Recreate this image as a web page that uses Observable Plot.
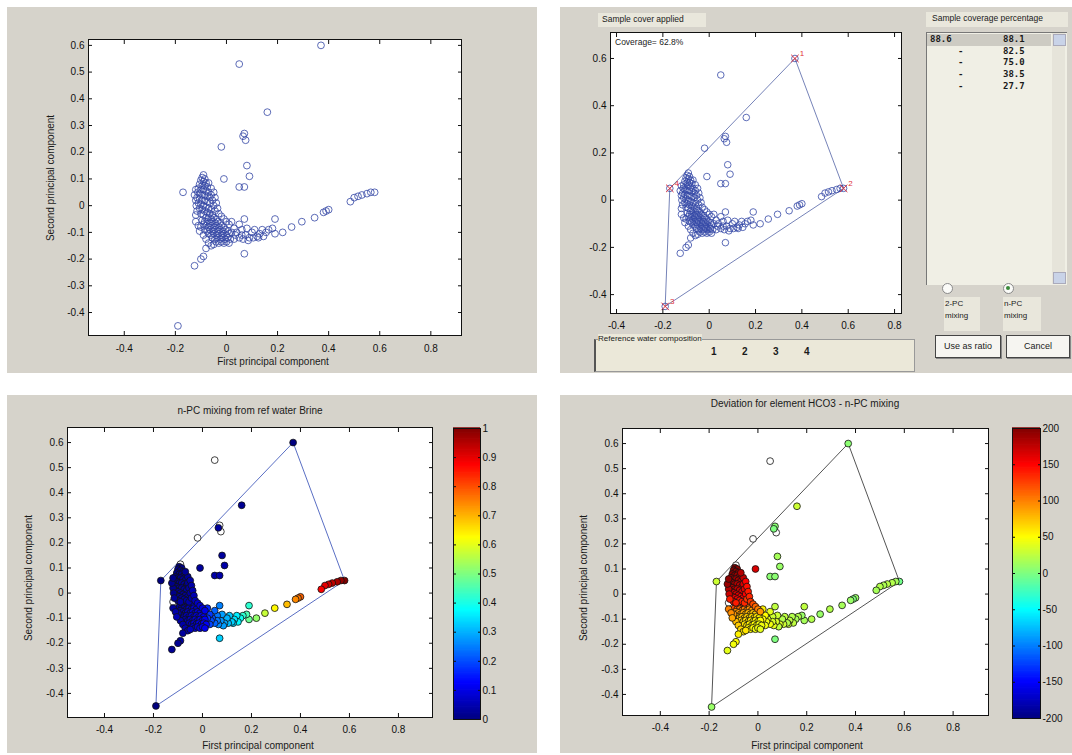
<!DOCTYPE html>
<html>
<head>
<meta charset="utf-8">
<script src="https://cdn.jsdelivr.net/npm/d3@7"></script>
<script src="https://cdn.jsdelivr.net/npm/@observablehq/plot@0.6"></script>
<style>
  body { margin: 0; width: 1072px; height: 755px; position: relative; overflow: hidden; background: #fff;
         font-family: "Liberation Sans", Arial, sans-serif; color: #1a1a1a; }
  .panel { position: absolute; background: #d6d3cb; }
  .abs { position: absolute; white-space: nowrap; }
  .chart { position: absolute; }
  .title { font-size: 10px; transform: translateX(-50%); }
  .ylab { font-size: 10px; transform: translate(-50%, -50%) rotate(-90deg); }
  .mono { font-family: "DejaVu Sans Mono", "Liberation Mono", monospace; font-size: 9px; font-weight: bold; }
  .btn { position: absolute; background: #f6f5f1; border: 1px solid #444; box-shadow: 1px 1px 0 #888;
         font-size: 9px; text-align: center; line-height: 20px; }
  .radio { position: absolute; width: 9px; height: 9px; border-radius: 50%; border: 1px solid #8a8a8a; background: #fbfbf8; }
</style>
</head>
<body>
<div class="panel" style="left:7px;top:7px;width:530px;height:366px"></div>
<div class="panel" style="left:560px;top:7px;width:512px;height:366px"></div>
<div class="panel" style="left:7px;top:395px;width:530px;height:358px"></div>
<div class="panel" style="left:560px;top:395px;width:512px;height:358px"></div>
<div id="root"></div>
<script>
// ---- Principal-component scores of the water samples ----
// order: end-members, upper scattered samples, brine mixing branch, main body,
// dense fresh-water group, left tail, flanks of the fresh-water group
const pc1 = [
  0.37, 0.58, -0.19, -0.17,
  0.05, 0.16, 0.07, 0.065, 0.075, -0.02, 0.08, 0.09, -0.01, 0.05, 0.07,
  0.565, 0.55, 0.53, 0.515, 0.50, 0.485, 0.40, 0.39, 0.38, 0.345,
  0.295, 0.255, 0.22, 0.19, 0.19, 0.18, 0.165, 0.155, 0.145, 0.14,
  0.13, 0.125, 0.12, 0.11, 0.105, 0.10, 0.09, 0.085, 0.08, 0.075,
  0.07, 0.065, 0.06, 0.06, 0.05, 0.05, 0.04, 0.035, 0.03, 0.03,
  0.02, 0.02, 0.07,
  -0.08, -0.07, -0.06, -0.05, -0.04, -0.095, -0.085, -0.075, -0.065, -0.055,
  -0.045, -0.035, -0.025, -0.09, -0.08, -0.07, -0.06, -0.05, -0.04, -0.03,
  -0.02, -0.01, -0.085, -0.075, -0.065, -0.055, -0.045, -0.035, -0.025, -0.015,
  -0.005, 0.005, -0.07, -0.06, -0.05, -0.04, -0.03, -0.02, -0.01, 0.0,
  0.01, -0.055, -0.045, -0.035, -0.025, -0.015, -0.005, 0.005, 0.015, -0.04,
  -0.03, -0.02, -0.01, 0.0, 0.01,
  -0.095, -0.085, -0.10, -0.09, -0.08, -0.105, -0.095, -0.085, -0.075, -0.11,
  -0.10, -0.09, -0.08, -0.07, -0.112, -0.105, -0.095, -0.085, -0.075, -0.065,
  -0.115, -0.105, -0.095, -0.085, -0.075, -0.065, -0.11, -0.10, -0.09, -0.08,
  -0.07, -0.06, -0.105, -0.095, -0.085, -0.075, -0.065, -0.055, -0.10, -0.09,
  -0.06, -0.055, -0.05, -0.06, -0.12, -0.118, -0.07, -0.045,
  -0.12, -0.115, -0.10, -0.09, -0.08, -0.07, -0.06, -0.05, -0.08, -0.09, -0.10, -0.125, -0.09,
  -0.05, -0.045, -0.04, -0.035, -0.03, -0.02, -0.01, 0.0, 0.01, -0.12, -0.11, -0.105, -0.125, -0.12
];
const pc2 = [
  0.60, 0.05, -0.45, 0.05,
  0.53, 0.35, 0.27, 0.26, 0.245, 0.22, 0.15, 0.11, 0.10, 0.07, 0.07,
  0.05, 0.045, 0.04, 0.035, 0.03, 0.015, -0.015, -0.02, -0.025, -0.045,
  -0.06, -0.08, -0.10, -0.105, -0.05, -0.085, -0.09, -0.10, -0.115, -0.09,
  -0.105, -0.12, -0.115, -0.09, -0.12, -0.10, -0.12, -0.13, -0.085, -0.11,
  -0.05, -0.125, -0.09, -0.11, -0.07, -0.12, -0.10, -0.11, -0.085, -0.125,
  -0.06, -0.10, -0.18,
  -0.045, -0.045, -0.05, -0.045, -0.05, -0.055, -0.06, -0.06, -0.065, -0.06,
  -0.065, -0.06, -0.065, -0.07, -0.075, -0.08, -0.075, -0.08, -0.075, -0.08,
  -0.075, -0.08, -0.09, -0.095, -0.09, -0.095, -0.09, -0.095, -0.09, -0.095,
  -0.09, -0.095, -0.105, -0.11, -0.105, -0.11, -0.105, -0.11, -0.105, -0.11,
  -0.105, -0.12, -0.125, -0.12, -0.125, -0.12, -0.125, -0.12, -0.125, -0.135,
  -0.14, -0.135, -0.14, -0.135, -0.14,
  0.105, 0.10, 0.095, 0.09, 0.085, 0.08, 0.075, 0.075, 0.07, 0.065,
  0.06, 0.06, 0.055, 0.05, 0.05, 0.045, 0.04, 0.04, 0.035, 0.03,
  0.03, 0.025, 0.02, 0.02, 0.015, 0.01, 0.01, 0.005, 0.0, -0.005,
  -0.01, -0.015, -0.01, -0.015, -0.02, -0.025, -0.03, -0.035, -0.03, -0.035,
  0.04, 0.02, 0.0, 0.065, 0.02, 0.0, 0.085, -0.02,
  -0.035, -0.02, -0.08, -0.11, -0.125, -0.14, -0.15, -0.145, -0.16, -0.19, -0.20, -0.225, 0.115,
  0.05, 0.03, 0.01, -0.01, -0.03, -0.04, -0.05, -0.06, -0.07, -0.06, -0.075, -0.095, 0.04, 0.06
];
// n-PC mixing fraction of the brine end-member (null: not computed)
const brine = [
  0, 1, 0, 0,
  null, 0.02, null, 0.03, null, null, 0.03, 0.04, 0.03, 0.04, 0.04,
  0.98, 0.96, 0.94, 0.92, 0.90, 0.88, 0.78, 0.76, 0.74, 0.69,
  0.63, 0.57, 0.52, 0.48, 0.42, 0.45, 0.42, 0.39, 0.37, 0.36,
  0.35, 0.33, 0.33, 0.32, 0.31, 0.30, 0.29, 0.28, 0.28, 0.27,
  0.25, 0.26, 0.24, 0.24, 0.22, 0.22, 0.20, 0.20, 0.18, 0.19,
  0.16, 0.17, 0.33,
  0.03, 0.03, 0.04, 0.05, 0.06, 0.02, 0.03, 0.03, 0.04, 0.05,
  0.06, 0.07, 0.07, 0.03, 0.03, 0.04, 0.05, 0.06, 0.07, 0.07,
  0.08, 0.09, 0.03, 0.04, 0.05, 0.06, 0.07, 0.07, 0.08, 0.09,
  0.10, 0.10, 0.04, 0.05, 0.06, 0.07, 0.08, 0.09, 0.09, 0.10,
  0.11, 0.05, 0.06, 0.07, 0.08, 0.09, 0.10, 0.11, 0.12, 0.06,
  0.07, 0.08, 0.09, 0.10, 0.11,
  0.01, 0.01, 0.01, 0.01, 0.01, 0.01, 0.01, 0.01, 0.02, 0.01,
  0.01, 0.01, 0.02, 0.02, 0.01, 0.01, 0.01, 0.02, 0.02, 0.02,
  0.01, 0.01, 0.02, 0.02, 0.02, 0.03, 0.01, 0.02, 0.02, 0.02,
  0.03, 0.03, 0.02, 0.02, 0.03, 0.03, 0.03, 0.04, 0.03, 0.03,
  0.02, 0.03, 0.03, 0.02, 0.01, 0.01, 0.02, 0.04,
  null, 0.02, 0.04, 0.04, 0.04, 0.05, 0.05, 0.06, 0.03, 0.03, 0.02, 0.02, null,
  0.04, 0.04, 0.05, 0.05, 0.06, 0.07, 0.08, 0.09, 0.10, 0.03, 0.04, 0.05, 0.01, 0.01
];
// deviation of HCO3 from the n-PC mixing estimate, % (null: not computed)
const hco3Dev = [
  5, -5, 10, 30,
  null, 30, 5, 0, null, null, 15, 10, 165, 5, 5,
  15, 20, 22, 18, 20, 15, 10, 0, 10, 15,
  20, 10, 20, 15, 25, 10, 20, 15, 25, 20,
  25, 30, 20, 25, 30, 20, 35, 25, 30, 35,
  25, 40, 30, 35, 40, 45, 40, 45, 50, 45,
  55, 50, 0,
  130, 125, 120, 115, 110, 120, 115, 110, 105, 100,
  100, 95, 90, 95, 90, 90, 85, 80, 80, 75,
  75, 70, 80, 75, 75, 70, 70, 65, 65, 60,
  60, 55, 70, 65, 65, 60, 60, 55, 55, 50,
  50, 60, 60, 55, 55, 50, 50, 45, 45, 55,
  50, 50, 45, 45, 40,
  200, 195, 200, 195, 190, 200, 195, 190, 185, 195,
  190, 190, 185, 180, 190, 190, 185, 180, 175, 170,
  185, 180, 180, 175, 170, 165, 175, 170, 165, 160,
  155, 150, 160, 155, 150, 145, 140, 135, 145, 140,
  165, 160, 150, 175, 180, 170, 180, 130,
  null, 140, 90, 75, 70, 65, 60, 60, 55, 50, 45, 40, null,
  150, 145, 140, 135, 130, 120, 110, 100, 90, 100, 95, 85, 190, 195
];

// end-member (reference water) compositions in PC space
const emPc1 = [0.37, 0.58, -0.19, -0.17];
const emPc2 = [0.60, 0.05, -0.45, 0.05];
const emLabel = ["1", "2", "3", "4"];

// tick values
const xTicks = [-0.4, -0.2, 0, 0.2, 0.4, 0.6, 0.8];
const yTicksFine = [-0.4, -0.3, -0.2, -0.1, 0, 0.1, 0.2, 0.3, 0.4, 0.5, 0.6];
const yTicksCoarse = [-0.4, -0.2, 0, 0.2, 0.4, 0.6];
const fracTicks = [0, 0.1, 0.2, 0.3, 0.4, 0.5, 0.6, 0.7, 0.8, 0.9, 1];
const devTicks = [-200, -150, -100, -50, 0, 50, 100, 150, 200];

// coverage list shown in the sample-coverage panel
const coverageFirst = "88.6";
const coverageValues = ["88.1", "82.5", "75.0", "38.5", "27.7"];
const coverageText = "Coverage= 62.8%";

// ---- helpers ----
const samples = pc1.map((x, i) => ({x, y: pc2[i], brine: brine[i], dev: hco3Dev[i]}));
const hull = [0, 1, 2, 3, 0].map(i => ({x: emPc1[i], y: emPc2[i]}));
const endMembers = emPc1.map((x, i) => ({x, y: emPc2[i], label: emLabel[i]}));

const jet = t => {
  const c = v => Math.round(255 * Math.max(0, Math.min(1, 1.5 - Math.abs(4 * t - v))));
  return `rgb(${c(3)},${c(2)},${c(1)})`;
};
const fmt = d => String(Math.round(d * 10) / 10);
const root = document.getElementById("root");

function place(node, left, top) {
  node.classList.add("chart");
  node.style.left = left + "px";
  node.style.top = top + "px";
  root.appendChild(node);
}
function text(str, left, top, cls = "", style = "") {
  const d = document.createElement("div");
  d.className = "abs " + cls;
  d.style.cssText = `left:${left}px;top:${top}px;${style}`;
  d.textContent = str;
  root.appendChild(d);
  return d;
}
function box(left, top, w, h, style) {
  const d = document.createElement("div");
  d.style.cssText = `position:absolute;left:${left}px;top:${top}px;width:${w}px;height:${h}px;${style}`;
  root.appendChild(d);
  return d;
}

// one MATLAB-style axes box: inward ticks on all four sides
function axesPanel({frame, xDomain, yDomain, yTicks, marks, fontSize = 10, color, xPad = 12}) {
  const [l, t, r, b] = frame;
  const mL = 40, mR = 10, mT = 10, mB = 24;
  const svg = Plot.plot({
    width: r - l + mL + mR, height: b - t + mT + mB,
    marginLeft: mL, marginRight: mR, marginTop: mT, marginBottom: mB,
    x: {domain: xDomain}, y: {domain: yDomain},
    color,
    style: {background: "transparent", fontFamily: "Liberation Sans, Arial, sans-serif", fontSize: fontSize + "px", color: "#111"},
    marks: [
      Plot.frame({fill: "white"}),
      ...marks,
      Plot.axisX(xTicks, {anchor: "bottom", tickSize: -4, tickPadding: xPad, tickFormat: fmt, label: null}),
      Plot.axisX(xTicks, {anchor: "top", tickSize: -4, tickFormat: () => "", label: null}),
      Plot.axisY(yTicks, {anchor: "left", tickSize: -4, tickPadding: 8, tickFormat: fmt, label: null}),
      Plot.axisY(yTicks, {anchor: "right", tickSize: -4, tickFormat: () => "", label: null}),
      Plot.frame({stroke: "#111", strokeWidth: 1})
    ]
  });
  place(svg, l - mL, t - mT);
}

function colorbar({frame, domain, ticks, fontSize = 10}) {
  const [l, t, r, b] = frame;
  const mL = 2, mR = 34, mT = 8, mB = 8;
  const n = 240, step = (domain[1] - domain[0]) / n;
  const bands = d3.range(n).map(i => domain[0] + i * step);
  const svg = Plot.plot({
    width: r - l + mL + mR, height: b - t + mT + mB,
    marginLeft: mL, marginRight: mR, marginTop: mT, marginBottom: mB,
    x: {domain: [0, 1], axis: null}, y: {domain},
    color: {type: "linear", domain, interpolate: jet},
    style: {background: "transparent", fontFamily: "Liberation Sans, Arial, sans-serif", fontSize: fontSize + "px", color: "#111"},
    marks: [
      Plot.rect(bands, {x1: 0, x2: 1, y1: d => d, y2: d => d + step * 1.6, fill: d => Math.min(d + step / 2, domain[1])}),
      Plot.axisY(ticks, {anchor: "right", tickSize: -3, tickPadding: 5, tickFormat: d => String(d), textAnchor: "start", label: null}),
      Plot.axisY(ticks, {anchor: "left", tickSize: -3, tickFormat: () => "", label: null}),
      Plot.frame({stroke: "#111"})
    ]
  });
  place(svg, l - mL, t - mT);
}

// ---- panel 1: raw PC scores ----
axesPanel({
  frame: [88, 39, 461, 335], xDomain: [-0.54, 0.92], yDomain: [-0.486, 0.622], yTicks: yTicksFine, xPad: 13,
  marks: [Plot.dot(samples, {x: "x", y: "y", r: 3.4, stroke: "#3346a4", strokeWidth: 0.8})]
});
text("First principal component", 273, 356, "title");
text("Second principal component", 50, 178, "ylab");

// ---- panel 2: sample coverage ----
axesPanel({
  frame: [610, 32, 901, 313], xDomain: [-0.426, 0.83], yDomain: [-0.48, 0.71], yTicks: yTicksCoarse,
  marks: [
    Plot.line(hull, {x: "x", y: "y", stroke: "#6675b0", strokeWidth: 0.9}),
    Plot.dot(samples, {x: "x", y: "y", r: 3.3, stroke: "#3448a6", strokeWidth: 0.8}),
    Plot.dot(endMembers, {x: "x", y: "y", symbol: "times", r: 3.5, stroke: "#e0303a", strokeWidth: 1}),
    Plot.text(endMembers, {x: "x", y: "y", text: "label", dx: 7, dy: -5, fill: "#e0303a", fontSize: 8})
  ]
});
text(coverageText, 615, 37, "", "font-size:8.5px");
box(598, 13, 108, 14, "background:#e9e7dc");
text("Sample cover applied", 602, 14, "", "font-size:8.5px");
box(926, 12, 142, 15, "background:#e9e7dc");
text("Sample coverage percentage", 932, 13, "", "font-size:8.5px");
box(926, 32, 140, 252, "background:#f0efe5;border-top:1px solid #777;border-left:1px solid #777");
box(927, 34, 124, 12, "background:#cdcbc3");
box(1052, 33, 13, 251, "background:#e6e4da");
box(1053, 34, 11, 10, "background:#c9d3e8;border:1px solid #aab");
box(1053, 272, 11, 10, "background:#c9d3e8;border:1px solid #aab");
text(coverageFirst, 930, 34, "mono");
coverageValues.forEach((v, i) => {
  if (i > 0) text("-", 958, 34 + i * 11.7, "mono");
  text(v, 1003, 34 + i * 11.7, "mono");
});
const r1 = box(942, 283, 9, 9, ""); r1.className = "radio";
const r2 = box(1003, 283, 9, 9, ""); r2.className = "radio";
box(1006, 286, 4, 4, "background:#3a8a3a;border-radius:50%");
box(944, 297, 36, 34, "background:#e9e7dc");
box(1003, 297, 38, 34, "background:#e9e7dc");
text("2-PC", 945, 299, "", "font-size:8px"); text("mixing", 945, 311, "", "font-size:8px");
text("n-PC", 1004, 299, "", "font-size:8px"); text("mixing", 1004, 311, "", "font-size:8px");
const b1 = box(935, 335, 64, 21, ""); b1.className = "btn"; b1.textContent = "Use as ratio";
const b2 = box(1006, 335, 62, 21, ""); b2.className = "btn"; b2.textContent = "Cancel";
box(594, 339, 318, 31, "background:#ebe8d9;border:1px solid #999;border-left:2px solid #555");
text("Reference water composition", 598, 334, "", "font-size:8px;background:#ebe8d9");
emLabel.forEach((lab, i) => text(lab, 711 + i * 31, 346, "", "font-size:10px;font-weight:bold"));

// ---- panel 3: n-PC mixing fraction of brine ----
axesPanel({
  frame: [67, 427, 432, 717], xDomain: [-0.551, 0.939], yDomain: [-0.496, 0.66], yTicks: yTicksFine,
  color: {type: "linear", domain: [0, 1], interpolate: jet},
  marks: [
    Plot.line(hull, {x: "x", y: "y", stroke: "#5a6fc4", strokeWidth: 1}),
    Plot.dot(samples, {filter: d => d.brine == null, x: "x", y: "y", r: 3.4, fill: "white", stroke: "#111", strokeWidth: 0.8}),
    Plot.dot(samples, {filter: d => d.brine != null, x: "x", y: "y", r: 3.4, fill: "brine", stroke: "#111", strokeWidth: 0.8})
  ]
});
colorbar({frame: [453, 428, 480, 719], domain: [0, 1], ticks: fracTicks});
text("n-PC mixing from ref water Brine", 250, 405, "title");
text("First principal component", 258, 740, "title");
text("Second principal component", 28, 578, "ylab");

// ---- panel 4: HCO3 deviation ----
axesPanel({
  frame: [622, 428, 988, 715], xDomain: [-0.555, 0.945], yDomain: [-0.484, 0.66], yTicks: yTicksFine,
  color: {type: "linear", domain: [-200, 200], interpolate: jet},
  marks: [
    Plot.line(hull, {x: "x", y: "y", stroke: "#555", strokeWidth: 1}),
    Plot.dot(samples, {filter: d => d.dev == null, x: "x", y: "y", r: 3.4, fill: "white", stroke: "#111", strokeWidth: 0.8}),
    Plot.dot(samples, {filter: d => d.dev != null, x: "x", y: "y", r: 3.4, fill: "dev", stroke: "#111", strokeWidth: 0.8})
  ]
});
colorbar({frame: [1012, 428, 1040, 718], domain: [-200, 200], ticks: devTicks});
text("Deviation for element HCO3  -  n-PC mixing", 805, 398, "title");
text("First principal component", 807, 740, "title");
text("Second principal component", 583, 578, "ylab");
</script>
</body>
</html>
